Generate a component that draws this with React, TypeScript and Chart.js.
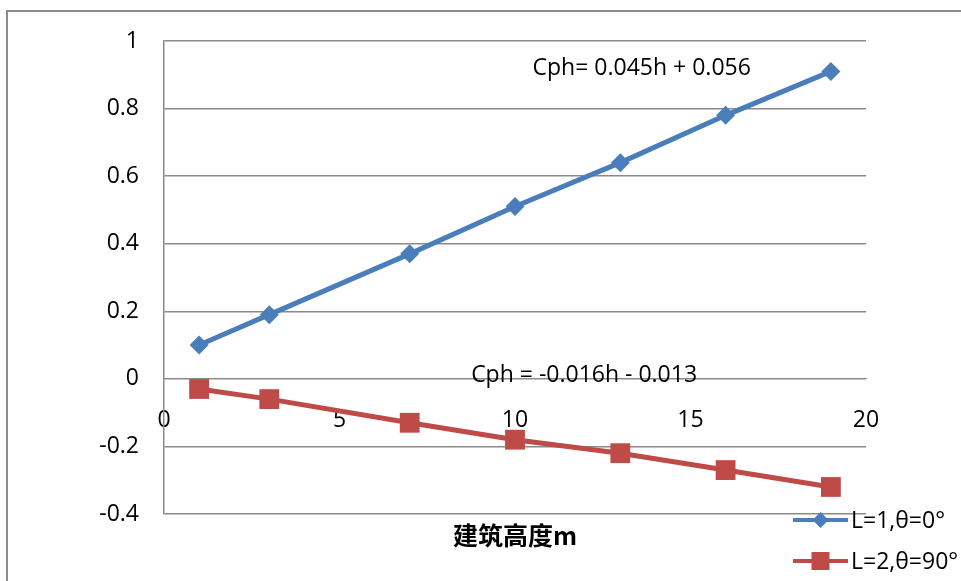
import React, { useEffect, useRef } from "react";
import { Chart, registerables } from "chart.js";

Chart.register(...registerables);

// Building height (m) at each measurement point
const heights = [1, 3, 7, 10, 13, 16, 19];
// Pressure coefficient, L=1, θ=0°
const cphL1 = [0.1, 0.19, 0.37, 0.51, 0.64, 0.78, 0.91];
// Pressure coefficient, L=2, θ=90°
const cphL2 = [-0.03, -0.06, -0.13, -0.18, -0.22, -0.27, -0.32];

const seriesLabels = ["L=1,θ=0°", "L=2,θ=90°"];
const fitLabels = ["Cph= 0.045h + 0.056", "Cph = -0.016h - 0.013"];
const xTitle = "建筑高度m";

const BLUE = "#4A7EBB";
const RED = "#BE4B48";
const GRID = "#8a8a8a";
const FONT = "'Open Sans', 'Noto Sans', sans-serif";
const FS = 23;

function fmt(v: number) {
  const n = Math.round(v * 10) / 10;
  return (n === 0 ? 0 : n).toString();
}

function drawMarker(ctx: CanvasRenderingContext2D, style: string, r: number, x: number, y: number) {
  ctx.beginPath();
  if (style === "rect") {
    ctx.rect(x - r, y - r, 2 * r, 2 * r);
  } else {
    ctx.moveTo(x - r, y);
    ctx.lineTo(x, y - r);
    ctx.lineTo(x + r, y);
    ctx.lineTo(x, y + r);
    ctx.closePath();
  }
  ctx.fill();
}

const decorPlugin = {
  id: "decor",
  beforeDraw(chart: any) {
    const { ctx } = chart;
    ctx.save();
    ctx.fillStyle = "#ffffff";
    ctx.fillRect(0, 0, chart.width, chart.height);
    ctx.strokeStyle = "#8c8c8c";
    ctx.lineWidth = 2;
    ctx.strokeRect(7, 11, chart.width + 20, chart.height + 20);
    ctx.restore();
  },
  afterDraw(chart: any) {
    const { ctx, chartArea } = chart;
    const xs = chart.scales.x;
    const ys = chart.scales.y;
    ctx.save();
    // fitted-line equations
    ctx.fillStyle = "#000";
    ctx.font = `${FS}px ${FONT}`;
    ctx.textBaseline = "middle";
    ctx.textAlign = "left";
    ctx.fillText(fitLabels[0], xs.getPixelForValue(10.5), ys.getPixelForValue(0.92));
    ctx.fillText(fitLabels[1], xs.getPixelForValue(8.75), ys.getPixelForValue(0.01));

    // axis title
    ctx.font = `bold 25px 'Noto Sans CJK SC', ${FONT}`;
    ctx.textAlign = "center";
    ctx.fillText(xTitle, (chartArea.left + chartArea.right) / 2, chartArea.bottom + 21);

    // legend
    const items = [
      { label: seriesLabels[0], color: BLUE, style: "rectRot", r: 8 },
      { label: seriesLabels[1], color: RED, style: "rect", r: 9 },
    ];
    const x0 = 793;
    const x1 = 848;
    items.forEach((it, i) => {
      const y = chartArea.bottom + 6 + i * 41;
      ctx.strokeStyle = it.color;
      ctx.lineWidth = 4;
      ctx.beginPath();
      ctx.moveTo(x0, y);
      ctx.lineTo(x1, y);
      ctx.stroke();
      ctx.fillStyle = it.color;
      drawMarker(ctx, it.style, it.r, (x0 + x1) / 2, y);
      ctx.fillStyle = "#000";
      ctx.font = `${FS}px ${FONT}`;
      ctx.textAlign = "left";
      ctx.textBaseline = "middle";
      ctx.fillText(it.label, x1 + 3, y + 1);
    });
    ctx.restore();
  },
};

export default function App() {
  const ref = useRef<HTMLCanvasElement>(null);

  useEffect(() => {
    document.body.style.margin = "0";
    const chart = new Chart(ref.current!, {
      type: "line",
      data: {
        datasets: [
          {
            label: seriesLabels[0],
            data: heights.map((h, i) => ({ x: h, y: cphL1[i] })),
            borderColor: BLUE,
            backgroundColor: BLUE,
            borderWidth: 5,
            pointStyle: "rectRot",
            pointRadius: 9.5,
            pointBorderWidth: 0,
          },
          {
            label: seriesLabels[1],
            data: heights.map((h, i) => ({ x: h, y: cphL2[i] })),
            borderColor: RED,
            backgroundColor: RED,
            borderWidth: 5,
            pointStyle: "rect",
            pointRadius: 14,
            pointBorderWidth: 0,
          },
        ],
      },
      options: {
        responsive: false,
        animation: false,
        layout: { padding: { left: 0, top: 41, right: 95, bottom: 67 } },
        plugins: {
          legend: { display: false },
          tooltip: { enabled: false },
        },
        scales: {
          x: {
            type: "linear",
            position: { y: 0 } as any,
            min: 0,
            max: 20,
            ticks: {
              stepSize: 5,
              color: "#000",
              font: { family: FONT, size: FS },
              padding: 28,
              maxRotation: 0,
            },
            grid: { display: false, drawTicks: false },
            border: { display: true, color: GRID, width: 1 },
          },
          y: {
            type: "linear",
            min: -0.4,
            max: 1,
            ticks: {
              stepSize: 0.2,
              color: "#000",
              font: { family: FONT, size: FS },
              padding: 25,
              callback: (v: any) => fmt(Number(v)),
            },
            grid: { color: GRID, lineWidth: 1.5, drawTicks: false },
            border: { display: true, color: GRID, width: 1.5 },
            afterFit(scale: any) {
              scale.width = 164;
            },
          },
        },
      },
      plugins: [decorPlugin],
    });
    return () => chart.destroy();
  }, []);

  return <canvas ref={ref} width={961} height={581} style={{ display: "block" }} />;
}
